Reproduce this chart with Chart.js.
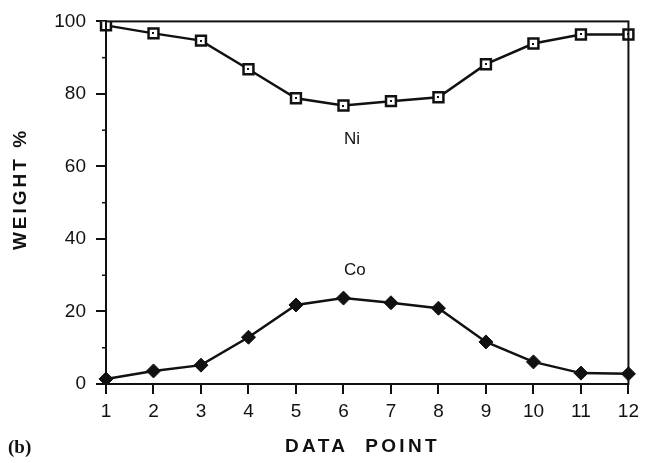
<!DOCTYPE html>
<html>
<head>
<meta charset="utf-8">
<script src="https://cdn.jsdelivr.net/npm/chart.js@4.4.0/dist/chart.umd.min.js"></script>
<style>
  html, body { margin: 0; padding: 0; background: #fff; }
  #wrap { position: relative; width: 645px; height: 463px; }
  .lbl { position: absolute; font-family: "Liberation Sans", Arial, sans-serif; color: #111; white-space: nowrap; line-height: 22px; }
</style>
</head>
<body>
<div id="wrap">
  <canvas id="chart" width="645" height="463"></canvas>
  <div class="lbl" style="left:-46px;top:178px;width:132px;text-align:center;font-size:19px;font-weight:bold;letter-spacing:3px;transform:rotate(-90deg);">WEIGHT %</div>
  <div class="lbl" style="left:285px;top:435px;font-size:19px;font-weight:bold;letter-spacing:3.3px;">DATA&nbsp; POINT</div>
  <div class="lbl" style="left:8px;top:436px;font-size:19px;font-weight:bold;font-family:'Liberation Serif','DejaVu Serif',serif;">(b)</div>
  <div class="lbl" style="left:344px;top:128px;font-size:17px;">Ni</div>
  <div class="lbl" style="left:344px;top:259px;font-size:17px;">Co</div>
</div>
<script>
// data points along the line scan
const dataPoints = ['1', '2', '3', '4', '5', '6', '7', '8', '9', '10', '11', '12'];
const nickel = [98.9, 96.7, 94.7, 86.8, 78.8, 76.8, 78.0, 79.1, 88.2, 93.9, 96.4, 96.4];
const cobalt = [1.4, 3.6, 5.2, 12.9, 21.8, 23.7, 22.4, 20.9, 11.6, 6.1, 3.0, 2.8];
const yTicks = [0, 20, 40, 60, 80, 100];
const yMinorTicks = [10, 30, 50, 70, 90];

// frame, minor ticks and centre dots of the Ni squares
const framePlugin = {
    id: 'frame',
    afterDatasetsDraw(chart) {
        const ctx = chart.ctx;
        const area = chart.chartArea;
        const yScale = chart.scales.y;
        ctx.save();
        ctx.strokeStyle = '#111';
        ctx.lineWidth = 2;
        ctx.strokeRect(area.left, area.top, area.right - area.left, area.bottom - area.top);

        ctx.lineWidth = 1.5;
        yMinorTicks.forEach(v => {
            const py = yScale.getPixelForValue(v);
            ctx.beginPath();
            ctx.moveTo(area.left - 4, py);
            ctx.lineTo(area.left, py);
            ctx.stroke();
        });

        ctx.fillStyle = '#111';
        chart.getDatasetMeta(0).data.forEach(pt => {
            ctx.fillRect(Math.round(pt.x) - 1, Math.round(pt.y) - 1, 2, 2);
        });
        ctx.restore();
    }
};

const ctx = document.getElementById('chart').getContext('2d');
new Chart(ctx, {
    type: 'line',
    data: {
        labels: dataPoints,
        datasets: [
            {
                label: 'Ni',
                data: nickel,
                borderColor: '#111',
                borderWidth: 2.5,
                pointStyle: 'rect',
                pointRadius: 7,
                pointBorderWidth: 2.5,
                pointBackgroundColor: '#fff',
                pointBorderColor: '#111',
                tension: 0
            },
            {
                label: 'Co',
                data: cobalt,
                borderColor: '#111',
                borderWidth: 2.5,
                pointStyle: 'rectRot',
                pointRadius: 7,
                pointBorderWidth: 1,
                pointBackgroundColor: '#111',
                pointBorderColor: '#111',
                tension: 0
            }
        ]
    },
    options: {
        responsive: false,
        animation: false,
        layout: { padding: { left: 0, right: 14, top: 21, bottom: 0 } },
        plugins: {
            legend: { display: false },
            tooltip: { enabled: false }
        },
        scales: {
            x: {
                offset: false,
                afterFit: scale => { scale.height = 79; },
                border: { display: true, color: '#111', width: 2 },
                grid: { display: true, drawOnChartArea: false, tickLength: 10, color: '#111', lineWidth: 2 },
                ticks: {
                    color: '#111',
                    padding: 6,
                    maxRotation: 0,
                    autoSkip: false,
                    font: { family: 'Liberation Sans', size: 19 }
                }
            },
            y: {
                min: 0,
                max: 100,
                afterFit: scale => { scale.width = 106; },
                afterBuildTicks: scale => { scale.ticks = yTicks.map(v => ({ value: v })); },
                border: { display: true, color: '#111', width: 2 },
                grid: { display: true, drawOnChartArea: false, tickLength: 10, color: '#111', lineWidth: 2 },
                ticks: {
                    color: '#111',
                    padding: 10,
                    font: { family: 'Liberation Sans', size: 19 }
                }
            }
        }
    },
    plugins: [framePlugin]
});
</script>
</body>
</html>
